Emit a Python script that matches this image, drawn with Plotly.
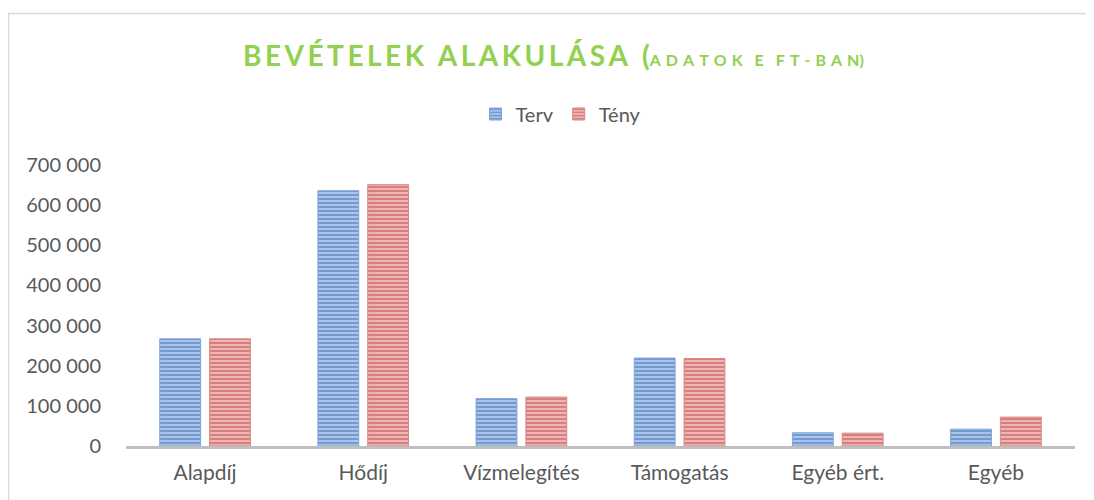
import plotly.graph_objects as go

categories = ["Alapdíj", "Hődíj", "Vízmelegítés", "Támogatás", "Egyéb ért.", "Egyéb"]
terv = [267000, 636000, 118000, 219000, 33000, 42000]
teny = [267000, 651000, 122000, 218000, 32000, 72000]
y_ticks = [0, 100000, 200000, 300000, 400000, 500000, 600000, 700000]

# page body adds an 8px margin, so the figure sits at (8, 8)
OFF = 8
FW, FH = 1094 - OFF, 500 - OFF
L, R, T, B = 126 - OFF, 1075 - OFF, 165 - OFF, 446 - OFF
W, H = R - L, B - T


def px_x(p):
    return (p - OFF - L) / W


def px_y(p):
    return (B - (p - OFF)) / H


def spaced(s, sep="\u2009"):
    return sep.join(s)


fig = go.Figure()

fig.add_trace(go.Bar(
    x=categories, y=terv, name="Terv",
    marker=dict(
        color="#AFC8EA",
        line=dict(color="#7FA4D8", width=1),
        pattern=dict(shape="-", fgcolor="#386AB7", size=4, solidity=0.55),
    ),
))
fig.add_trace(go.Bar(
    x=categories, y=teny, name="Tény",
    marker=dict(
        color="#EFB9B8",
        line=dict(color="#D98785", width=1),
        pattern=dict(shape="-", fgcolor="#BC4744", size=4, solidity=0.55),
    ),
))

title_big = spaced("BEVÉTELEK") + "\u2002" + spaced("ALAKULÁSA") + "\u2002("
title_small = spaced("ADATOK", "\u2009\u2009\u200a") + "\u2003" + spaced("E") + "\u2003" + \
    spaced("FT-BAN", "\u2009\u2009\u200a") + ")"

fig.add_annotation(
    x=px_x(553), y=px_y(55), xref="paper", yref="paper",
    text=f"<b>{title_big}<span style='font-size:16px'>{title_small}</span></b>",
    showarrow=False, xanchor="center", yanchor="middle",
    font=dict(family="Lato, Open Sans, sans-serif", size=28, color="#92D050"),
)

# outer chart frame
fig.add_shape(
    type="rect", xref="paper", yref="paper",
    x0=px_x(8.5), x1=px_x(1120), y0=px_y(530), y1=px_y(13.5),
    line=dict(color="#D9D9D9", width=1.5), fillcolor="rgba(0,0,0,0)", layer="below",
)

fig.update_layout(
    width=FW, height=FH,
    margin=dict(l=L, r=FW - R, t=T, b=FH - B),
    paper_bgcolor="white", plot_bgcolor="white",
    barmode="group", bargap=0.37, bargroupgap=0.18,
    separators=", ",
    font=dict(family="Lato, Open Sans, sans-serif", size=20, color="#595959"),
    legend=dict(
        orientation="h", x=px_x(561), y=px_y(114), xanchor="center", yanchor="middle",
        font=dict(size=20, color="#595959"), itemwidth=30, traceorder="normal",
    ),
    showlegend=True,
)

fig.update_xaxes(
    showline=True, linecolor="#BFBFBF", linewidth=3,
    ticks="outside", ticklen=6, tickcolor="rgba(0,0,0,0)",
    showgrid=False, tickfont=dict(size=21, color="#595959"),
)
fig.update_yaxes(
    range=[0, 700000], tickvals=y_ticks, tickformat=",d",
    showgrid=False, zeroline=False, showline=False,
    tickfont=dict(size=20, color="#595959"), ticklen=20, ticks="outside",
    tickcolor="rgba(0,0,0,0)",
)

fig.write_html("out.html")
